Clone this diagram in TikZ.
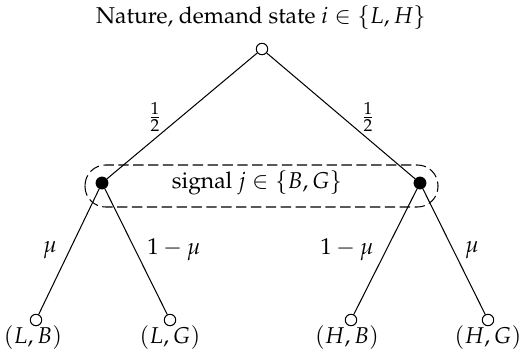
\documentclass[tikz,border=0pt]{standalone}
\usepackage[T1]{fontenc}
\usepackage{mathpazo}
\begin{document}
\begin{tikzpicture}[x=0.437pt,y=-0.437pt,
  chance/.style={circle,draw,fill=white,inner sep=0pt,minimum size=5pt,line width=0.45pt},
  player/.style={circle,draw,fill=black,inner sep=0pt,minimum size=5.2pt},
  edge/.style={line width=0.45pt},
  lbl/.style={inner sep=1pt}]
\useasboundingbox (0,0) rectangle (523,363);
\node[lbl] (title) at (261,17) {Nature, demand state $i \in \{L,H\}$};
\node[chance] (root) at (262,49) {};
\node[player] (ml) at (102,183) {};
\node[player] (mr) at (420,183) {};
\node[chance] (lb) at (36,320) {};
\node[chance] (lg) at (170,320) {};
\node[chance] (hb) at (351,320) {};
\node[chance] (hg) at (488,320) {};
\draw[edge] (root) -- (ml);
\draw[edge] (root) -- (mr);
\draw[edge] (ml) -- (lb);
\draw[edge] (ml) -- (lg);
\draw[edge] (mr) -- (hb);
\draw[edge] (mr) -- (hg);
\node[lbl] (p1) at (155,117) {$\frac{1}{2}$};
\node[lbl] (p2) at (368,117) {$\frac{1}{2}$};
\node[lbl] (signal) at (257,183) {signal $j \in \{B,G\}$};
\draw[edge,dash pattern=on 4.5pt off 2pt,rounded corners=9pt] (85,165) rectangle (438,207);
\node[lbl] (m1) at (50,250) {$\mu$};
\node[lbl] (m2) at (174,250) {$1-\mu$};
\node[lbl] (m3) at (347,250) {$1-\mu$};
\node[lbl] (m4) at (472,250) {$\mu$};
\node[lbl] (tlb) at (33,338) {$(L,B)$};
\node[lbl] (tlg) at (170,338) {$(L,G)$};
\node[lbl] (thb) at (347,338) {$(H,B)$};
\node[lbl] (thg) at (488,338) {$(H,G)$};
\end{tikzpicture}
\end{document}
